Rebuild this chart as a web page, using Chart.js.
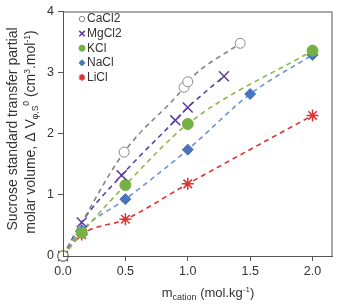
<!DOCTYPE html>
<html>
<head>
<meta charset="utf-8">
<script src="https://cdn.jsdelivr.net/npm/chart.js@4"></script>
<style>
  html, body { margin: 0; padding: 0; background: #fff; }
  #wrap { width: 341px; height: 306px; }
</style>
</head>
<body>
<div id="wrap"><canvas id="myChart" width="341" height="306"></canvas></div>
<script>
// data (x = m cation, y = transfer volume)
var caX = [0, 0.49, 0.97, 1.0, 1.42];
var caY = [0, 1.70, 2.76, 2.85, 3.48];
var mgX = [0, 0.15, 0.47, 0.90, 1.0, 1.29];
var mgY = [0, 0.55, 1.32, 2.22, 2.43, 2.94];
var kX = [0, 0.15, 0.5, 1.0, 2.0];
var kY = [0, 0.38, 1.16, 2.16, 3.36];
var naX = [0, 0.15, 0.5, 1.0, 1.5, 2.0];
var naY = [0, 0.42, 0.93, 1.74, 2.65, 3.29];
var liX = [0, 0.15, 0.5, 1.0, 2.0];
var liY = [0, 0.35, 0.60, 1.18, 2.30];
var xTicks = [0, 0.5, 1.0, 1.5, 2.0];
var yTicks = [0, 1, 2, 3, 4];

var FONT = "'Liberation Sans', Arial, sans-serif";

function pts(xs, ys) {
  var out = [];
  for (let i = 0; i < xs.length; i++) {
    out.push({ x: xs[i], y: ys[i] });
  }
  return out;
}

// each salt: the dashed trend line and the markers on top
var salts = [
  { label: "CaCl2", x: caX, y: caY, line: "#858585", mk: "#8a8a8a", fill: "#ffffff", style: "circle", r: 5, bw: 1 },
  { label: "MgCl2", x: mgX, y: mgY, line: "#5b42a0", mk: "#5a3d9e", fill: "#5a3d9e", style: "crossRot", r: 7, bw: 1.5 },
  { label: "KCl", x: kX, y: kY, line: "#8db84c", mk: "#77b043", fill: "#77b043", style: "circle", r: 5.5, bw: 1 },
  { label: "NaCl", x: naX, y: naY, line: "#6f93d6", mk: "#4a74c0", fill: "#4a74c0", style: "rectRot", r: 5.5, bw: 1 },
  { label: "LiCl", x: liX, y: liY, line: "#dc3434", mk: "#e0302f", fill: "#e0302f", style: "star", r: 6, bw: 1.5 }
];

var datasets = [];
salts.forEach(function (s) {
  datasets.push({
    label: s.label + " trend",
    data: pts(s.x, s.y),
    showLine: true,
    borderColor: s.line,
    borderWidth: 1.6,
    borderDash: [5, 4],
    cubicInterpolationMode: "monotone",
    pointRadius: 0,
    clip: false,
    order: 2
  });
});
salts.forEach(function (s) {
  datasets.push({
    label: s.label,
    data: pts(s.x, s.y),
    showLine: false,
    pointStyle: s.style,
    pointRadius: s.r,
    pointBorderColor: s.mk,
    pointBackgroundColor: s.fill,
    pointBorderWidth: s.bw,
    clip: false,
    order: 1
  });
});

// frame, legend and the axis titles with sub/superscripts
var extras = {
  id: "extras",
  afterDatasetsDraw: function (chart) {
    var ctx = chart.ctx;
    var a = chart.chartArea;
    ctx.save();
    ctx.strokeStyle = "#555";
    ctx.lineWidth = 1;
    ctx.strokeRect(a.left + 0.5, a.top + 0.5, a.right - a.left - 1, a.bottom - a.top);

    // legend
    ctx.font = "12px " + FONT;
    ctx.textBaseline = "middle";
    salts.forEach(function (s, i) {
      var yy = 19 + i * 14.6;
      ctx.strokeStyle = s.mk;
      ctx.fillStyle = s.fill;
      ctx.lineWidth = s.bw;
      Chart.helpers.drawPoint(ctx, {
        pointStyle: s.style,
        radius: s.r * 0.55,
        rotation: 0,
        borderWidth: s.bw
      }, 82, yy);
      ctx.fillStyle = "#333";
      ctx.textBaseline = "middle";
      ctx.textAlign = "left";
      ctx.font = "12px " + FONT;
      ctx.fillText(s.label, 87, yy);
    });

    // x title
    drawRich(ctx, [
      { t: "m", s: 13, dy: 0 },
      { t: "cation", s: 9, dy: 3 },
      { t: " (mol.kg", s: 13, dy: 0 },
      { t: "-1", s: 8, dy: -5 },
      { t: ")", s: 13, dy: 0 }
    ], 208, 297);

    // y title, two lines rotated
    ctx.save();
    ctx.translate(17, 129);
    ctx.rotate(-Math.PI / 2);
    drawRich(ctx, [{ t: "Sucrose standard transfer partial", s: 14, dy: 0 }], 0, 0);
    ctx.restore();
    ctx.save();
    ctx.translate(35, 132);
    ctx.rotate(-Math.PI / 2);
    drawRich(ctx, [
      { t: "molar volume, \u0394 V", s: 14, dy: 0 },
      { t: "\u03c6,S", s: 8.5, dy: 3 },
      { t: "0", s: 8.5, dy: -6 },
      { t: " (cm", s: 14, dy: 0 },
      { t: "3", s: 8.5, dy: -5 },
      { t: ".mol", s: 14, dy: 0 },
      { t: "-1", s: 8.5, dy: -5 },
      { t: ")", s: 14, dy: 0 }
    ], 0, 0);
    ctx.restore();
    ctx.restore();
  }
};

function drawRich(ctx, parts, cx, baseY) {
  ctx.textBaseline = "alphabetic";
  ctx.textAlign = "left";
  ctx.fillStyle = "#333";
  var total = 0;
  parts.forEach(function (p) {
    ctx.font = p.s + "px " + FONT;
    p.w = ctx.measureText(p.t).width;
    total += p.w;
  });
  var x = cx - total / 2;
  parts.forEach(function (p) {
    ctx.font = p.s + "px " + FONT;
    ctx.fillText(p.t, x, baseY + p.dy);
    x += p.w;
  });
}

var config = {
  type: "scatter",
  data: { datasets: datasets },
  options: {
    responsive: false,
    animation: false,
    layout: { padding: { top: 7, right: 7, left: 0, bottom: 0 } },
    plugins: { legend: { display: false }, tooltip: { enabled: false } },
    scales: {
      x: {
        type: "linear",
        min: 0,
        max: 2.16,
        afterBuildTicks: function (axis) {
          axis.ticks = xTicks.map(function (v) { return { value: v }; });
        },
        afterFit: function (axis) { axis.height = 50; },
        ticks: {
          font: { size: 12.5, family: FONT },
          color: "#333",
          padding: 3,
          callback: function (v) { return v.toFixed(1); }
        },
        grid: { drawOnChartArea: false, tickLength: 5, color: "#555" },
        border: { color: "#555" }
      },
      y: {
        type: "linear",
        min: 0,
        max: 4,
        afterBuildTicks: function (axis) {
          axis.ticks = yTicks.map(function (v) { return { value: v }; });
        },
        afterFit: function (axis) { axis.width = 63; },
        ticks: {
          font: { size: 12.5, family: FONT },
          color: "#333",
          padding: 4
        },
        grid: { drawOnChartArea: false, tickLength: 5, color: "#555" },
        border: { color: "#555" }
      }
    }
  },
  plugins: [extras]
};

var myChart = new Chart(document.getElementById("myChart"), config);
</script>
</body>
</html>
